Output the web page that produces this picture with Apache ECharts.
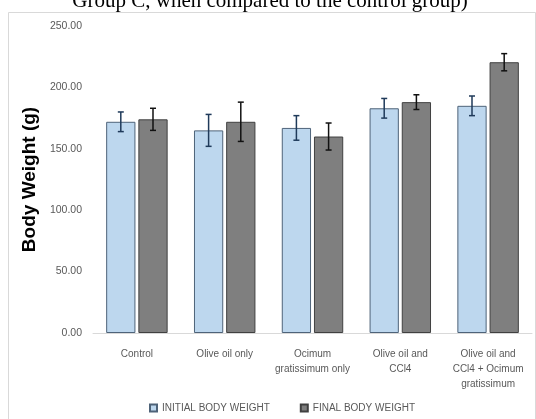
<!DOCTYPE html>
<html><head><meta charset="utf-8">
<script src="https://cdn.jsdelivr.net/npm/echarts@6/dist/echarts.min.js"></script>
<style>html,body{margin:0;padding:0;background:#fff}#c{width:536px;height:419px}</style>
</head><body><div id="c"></div>
<script>
const categories = ['Control', 'Olive oil only', 'Ocimum\ngratissimum only', 'Olive oil and\nCCl4', 'Olive oil and\nCCl4 + Ocimum\ngratissimum'];
const initialWeight = [172, 165, 167, 183, 185];
const finalWeight = [174, 172, 160, 188, 220.5];
const initialErr = [8, 13, 10, 8, 8];
const finalErr = [9, 16, 11, 6, 7];
const yTicks = [0, 50, 100, 150, 200, 250];

const chart = echarts.init(document.getElementById('c'));
const catGap = 0.30, barGap = 0.10;
function errSeries(vals, errs, sign, color) {
  return {
    type: 'custom', z: 10,
    data: vals.map((v, i) => [i, v, errs[i]]),
    renderItem: function (params, api) {
      const i = api.value(0), v = api.value(1), e = api.value(2);
      const band = api.size([1, 0])[0];
      const w = band * (1 - catGap) / (2 + barGap);
      const off = sign * w * (1 + barGap) / 2;
      const c = api.coord([i, v]);
      const x = c[0] + off;
      const yTop = api.coord([i, v + e])[1];
      const yBot = api.coord([i, v - e])[1];
      const cap = 3;
      return { type: 'group', children: [
        { type: 'line', shape: { x1: x, y1: yTop, x2: x, y2: yBot }, style: { stroke: color, lineWidth: 1.5 } },
        { type: 'line', shape: { x1: x - cap, y1: yTop, x2: x + cap, y2: yTop }, style: { stroke: color, lineWidth: 1.5 } },
        { type: 'line', shape: { x1: x - cap, y1: yBot, x2: x + cap, y2: yBot }, style: { stroke: color, lineWidth: 1.5 } }
      ]};
    }
  };
}
chart.setOption({
  animation: false,
  textStyle: { fontFamily: 'Liberation Sans, Arial, sans-serif' },
  graphic: [
    { type: 'rect', left: 8, top: 12, z: -1, shape: { width: 527, height: 410 }, style: { fill: '#fff', stroke: '#d9d9d9', lineWidth: 1 } },
    { type: 'text', x: 270, y: 12, z: 5, style: { text: 'Group C, when compared to the control group)', font: '21px "Liberation Serif", "Times New Roman", serif', fill: '#000', align: 'center', verticalAlign: 'bottom' } }
  ],
  grid: { left: 93, right: 4, top: 26, bottom: 86, containLabel: false },
  legend: {
    bottom: 1, left: 144, itemGap: 30, itemWidth: 7, itemHeight: 7,
    textStyle: { color: '#595959', fontSize: 10 },
    data: [
      { name: 'INITIAL BODY WEIGHT', icon: 'rect' },
      { name: 'FINAL BODY WEIGHT', icon: 'rect' }
    ]
  },
  xAxis: {
    type: 'category', data: categories,
    axisLine: { lineStyle: { color: '#d9d9d9' } },
    axisTick: { show: false },
    axisLabel: { color: '#595959', fontSize: 10, lineHeight: 15, interval: 0, margin: 14 }
  },
  yAxis: {
    type: 'value', min: 0, max: 250, interval: 50,
    name: 'Body Weight (g)', nameLocation: 'middle', nameGap: 43,
    nameTextStyle: { color: '#000', fontSize: 19, fontWeight: 'bold' },
    axisLine: { show: false }, axisTick: { show: false },
    splitLine: { show: false },
    axisLabel: { color: '#595959', fontSize: 10.5, margin: 11, formatter: v => yTicks.includes(v) ? v.toFixed(2) : '' }
  },
  series: [
    { name: 'INITIAL BODY WEIGHT', type: 'bar', data: initialWeight, barGap: '10%', barCategoryGap: '30%',
      itemStyle: { color: '#bdd7ee', borderColor: '#4e6379', borderWidth: 1 } },
    { name: 'FINAL BODY WEIGHT', type: 'bar', data: finalWeight,
      itemStyle: { color: '#7f7f7f', borderColor: '#404040', borderWidth: 1 } },
    errSeries(initialWeight, initialErr, -1, '#1f3a5a'),
    errSeries(finalWeight, finalErr, 1, '#111')
  ]
});
</script></body></html>
